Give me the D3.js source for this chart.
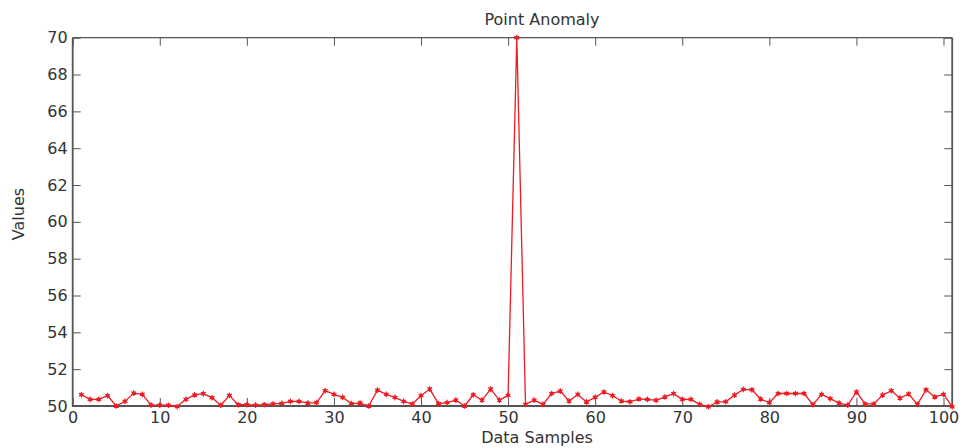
<!DOCTYPE html>
<html>
<head>
<meta charset="utf-8">
<script src="https://cdn.jsdelivr.net/npm/d3@7"></script>
<style>
  html, body { margin: 0; padding: 0; background: #fff; }
  svg { display: block; }
  text { font-family: "DejaVu Sans", sans-serif; fill: #333; }
</style>
</head>
<body>
<svg id="chart" width="965" height="448"></svg>
<script>
// Sample index (1..101) and measured values
const samples = d3.range(1, 102);
const values = [
  50.61, 50.36, 50.36, 50.56, 50.00, 50.25, 50.70, 50.63, 50.05, 50.05,
  50.04, 49.97, 50.36, 50.60, 50.67, 50.45, 50.04, 50.58, 50.07, 50.07,
  50.05, 50.07, 50.11, 50.14, 50.25, 50.25, 50.16, 50.18, 50.83, 50.63,
  50.47, 50.13, 50.16, 50.00, 50.86, 50.63, 50.47, 50.25, 50.11, 50.56,
  50.92, 50.13, 50.18, 50.32, 50.00, 50.61, 50.32, 50.92, 50.32, 50.58,
  70.00, 50.09, 50.32, 50.09, 50.68, 50.81, 50.27, 50.63, 50.22, 50.47,
  50.76, 50.56, 50.27, 50.23, 50.38, 50.36, 50.31, 50.49, 50.67, 50.36,
  50.36, 50.09, 49.96, 50.22, 50.23, 50.59, 50.90, 50.88, 50.38, 50.18,
  50.68, 50.68, 50.68, 50.68, 50.07, 50.63, 50.40, 50.16, 50.05, 50.76,
  50.11, 50.11, 50.59, 50.83, 50.43, 50.65, 50.09, 50.88, 50.49, 50.63,
  49.96
];
const xTicks = [0, 10, 20, 30, 40, 50, 60, 70, 80, 90, 100];
const yTicks = [50, 52, 54, 56, 58, 60, 62, 64, 66, 68, 70];
const titleText = "Point Anomaly";
const xLabel = "Data Samples";
const yLabel = "Values";

const svg = d3.select("#chart");
const plotL = 72.7, plotR = 952.2, plotT = 37.7, plotB = 406;
const lineColor = "#ec1c24";
const frameColor = "#555";

const x = d3.scaleLinear().domain([0, 101]).range([plotL, plotR]);
const y = d3.scaleLinear().domain([50, 70]).range([plotB, plotT]);

const data = samples.map((s, i) => ({ s, v: values[i] }));

// Inward ticks on all four sides
const tickLen = 8;
function styleAxis(g) {
  g.select(".domain").remove();
  g.selectAll(".tick line").attr("stroke", frameColor).attr("stroke-width", 1);
  g.selectAll(".tick text").attr("fill", "#333").style("font-size", "16px");
}

svg.append("g")
  .attr("transform", `translate(0,${plotB})`)
  .call(d3.axisBottom(x).tickValues(xTicks).tickSize(-tickLen).tickPadding(6).tickFormat(d3.format("d")))
  .call(styleAxis);

svg.append("g")
  .attr("transform", `translate(0,${plotT})`)
  .call(d3.axisTop(x).tickValues(xTicks).tickSize(-tickLen).tickFormat(""))
  .call(styleAxis);

svg.append("g")
  .attr("transform", `translate(${plotL},0)`)
  .call(d3.axisLeft(y).tickValues(yTicks).tickSize(-tickLen).tickPadding(5).tickFormat(d3.format("d")))
  .call(styleAxis);

svg.append("g")
  .attr("transform", `translate(${plotR},0)`)
  .call(d3.axisRight(y).tickValues(yTicks).tickSize(-tickLen).tickFormat(""))
  .call(styleAxis);

// Box around the plot area
svg.append("path")
  .attr("d", `M${plotL},${plotT}H${plotR}`)
  .attr("stroke", frameColor).attr("stroke-width", 1.2).attr("fill", "none");
svg.append("path")
  .attr("d", `M${plotL},${plotT}V${plotB}H${plotR}V${plotT}`)
  .attr("stroke", frameColor).attr("stroke-width", 1.8).attr("fill", "none");

// Series line
svg.append("path")
  .datum(data)
  .attr("fill", "none")
  .attr("stroke", lineColor)
  .attr("stroke-width", 1.3)
  .attr("stroke-linejoin", "round")
  .attr("d", d3.line().x(d => x(d.s)).y(d => y(d.v)));

// Asterisk markers
const star = d3.symbol().type(d3.symbolAsterisk).size(22);
const markers = svg.append("g");
markers.selectAll("path.m")
  .data(data)
  .join("path")
  .attr("class", "m")
  .attr("transform", d => `translate(${x(d.s)},${y(d.v)})`)
  .attr("d", star)
  .attr("stroke", lineColor)
  .attr("stroke-width", 1.2)
  .attr("fill", "none");
markers.selectAll("circle")
  .data(data)
  .join("circle")
  .attr("cx", d => x(d.s))
  .attr("cy", d => y(d.v))
  .attr("r", 1.8)
  .attr("fill", lineColor);

// Title and axis labels
svg.append("text")
  .attr("x", 542).attr("y", 25)
  .attr("text-anchor", "middle")
  .style("font-size", "16px")
  .attr("fill", "#222")
  .text(titleText);

svg.append("text")
  .attr("x", 537).attr("y", 443)
  .attr("text-anchor", "middle")
  .style("font-size", "16px")
  .text(xLabel);

svg.append("text")
  .attr("transform", "translate(24,214) rotate(-90)")
  .attr("text-anchor", "middle")
  .style("font-size", "16px")
  .text(yLabel);
</script>
</body>
</html>
